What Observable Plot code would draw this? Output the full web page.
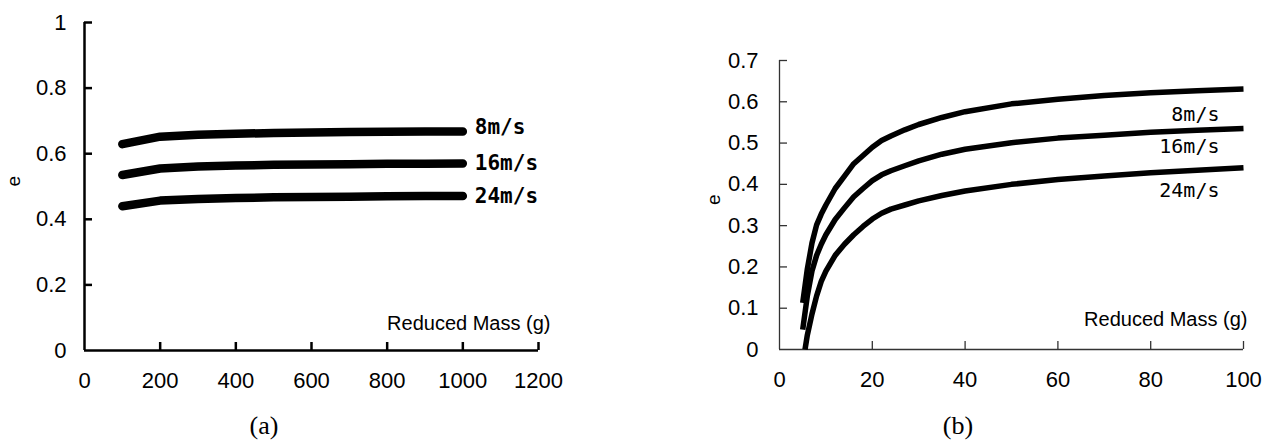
<!DOCTYPE html>
<html><head><meta charset="utf-8">
<script src="https://cdn.jsdelivr.net/npm/d3@7"></script>
<script src="https://cdn.jsdelivr.net/npm/@observablehq/plot@0.6"></script>
<style>
body{margin:0;background:#fff;width:1276px;height:441px;position:relative;overflow:hidden;font-family:"Liberation Sans",Arial,sans-serif;}
#a{position:absolute;left:0;top:0;}
#b{position:absolute;left:640px;top:0;}
.cap{position:absolute;font-family:"Liberation Serif","Times New Roman",serif;font-size:26px;transform:translate(-50%,-50%);color:#000;}
</style></head><body>
<div id="a"></div><div id="b"></div>
<div class="cap" style="left:264px;top:426px">(a)</div>
<div class="cap" style="left:958px;top:426px">(b)</div>
<script>
// ---- data ----
const speedLabels = ["8m/s", "16m/s", "24m/s"];
const xTitle = "Reduced Mass (g)";
const yTitle = "e";

// panel (a)
const massA = [100, 200, 300, 400, 500, 600, 700, 800, 900, 1000];
const e8A  = [0.629, 0.652, 0.658, 0.661, 0.663, 0.665, 0.666, 0.667, 0.668, 0.668];
const e16A = [0.535, 0.555, 0.561, 0.564, 0.566, 0.567, 0.568, 0.569, 0.569, 0.570];
const e24A = [0.440, 0.457, 0.462, 0.465, 0.467, 0.468, 0.469, 0.470, 0.471, 0.471];
const xTicksA = [0, 200, 400, 600, 800, 1000, 1200];
const yTicksA = [0, 0.2, 0.4, 0.6, 0.8, 1];

// panel (b)
const massB   = [5, 6, 7, 8, 9, 10, 12, 14, 16, 18, 20, 22, 24, 27, 30, 35, 40, 50, 60, 70, 80, 90, 100];
const e8B     = [0.113, 0.195, 0.258, 0.302, 0.328, 0.350, 0.390, 0.420, 0.450, 0.470, 0.490, 0.506, 0.517, 0.532, 0.545, 0.562, 0.576, 0.595, 0.606, 0.615, 0.622, 0.627, 0.631];
const e16B    = [0.048, 0.130, 0.190, 0.228, 0.255, 0.278, 0.315, 0.343, 0.370, 0.390, 0.409, 0.423, 0.433, 0.445, 0.457, 0.473, 0.485, 0.501, 0.512, 0.519, 0.526, 0.531, 0.535];
const massB24 = [5.5, 6, 7, 8, 9, 10, 12, 14, 16, 18, 20, 22, 24, 27, 30, 35, 40, 50, 60, 70, 80, 90, 100];
const e24B    = [0.000, 0.035, 0.086, 0.130, 0.165, 0.190, 0.228, 0.255, 0.278, 0.298, 0.316, 0.330, 0.340, 0.350, 0.360, 0.373, 0.384, 0.400, 0.412, 0.420, 0.428, 0.434, 0.440];
const xTicksB = [0, 20, 40, 60, 80, 100];
const yTicksB = [0, 0.1, 0.2, 0.3, 0.4, 0.5, 0.6, 0.7];

// ---- build tables ----
const seriesA = [e8A, e16A, e24A];
const rowsA = speedLabels.flatMap((s, k) => massA.map((m, i) => ({speed: s, mass: m, e: seriesA[k][i]})));
const endA = speedLabels.map((s, k) => ({speed: s, mass: massA[massA.length - 1], e: seriesA[k][seriesA[k].length - 1]}));

const seriesB = [[massB, e8B], [massB, e16B], [massB24, e24B]];
const rowsB = speedLabels.flatMap((s, k) => seriesB[k][0].map((m, i) => ({speed: s, mass: m, e: seriesB[k][1][i]})));
const endB = speedLabels.map((s, k) => ({speed: s, mass: seriesB[k][0][seriesB[k][0].length - 1], e: seriesB[k][1][seriesB[k][1].length - 1]}));

const tickFont = '"Liberation Sans Narrow","Arial Narrow","Liberation Sans",Arial,sans-serif';
const monoFont = '"DejaVu Sans Mono","Liberation Mono",monospace';
const sansFont = '"Liberation Sans",Arial,sans-serif';
const fmt = d => String(d);

const labelDyA = [-4, 0, 0];
const labelDyB = [26, 18, 23];

const plotA = Plot.plot({
  width: 640, height: 400,
  marginLeft: 84, marginRight: 102, marginTop: 22, marginBottom: 50,
  style: {fontFamily: tickFont, fontSize: "22px", color: "#000", background: "#fff", overflow: "visible"},
  x: {domain: [0, 1200]},
  y: {domain: [0, 1]},
  marks: [
    Plot.axisX(xTicksA, {tickSize: 0, tickPadding: 22, tickFormat: fmt, label: null}),
    Plot.axisX(xTicksA.slice(1), {tickSize: -8, strokeWidth: 2.5, fill: "none", label: null}),
    Plot.axisY(yTicksA, {tickSize: 0, tickPadding: 18, tickFormat: fmt, label: null}),
    Plot.axisY(yTicksA.slice(1), {tickSize: -8, strokeWidth: 2.5, fill: "none", label: null}),
    Plot.ruleX([0], {strokeWidth: 2.5}),
    Plot.ruleY([0], {strokeWidth: 2.5}),
    Plot.line(rowsA, {x: "mass", y: "e", z: "speed", stroke: "#000", strokeWidth: 8.5, strokeLinecap: "round", strokeLinejoin: "round"}),
    ...endA.map((d, k) => Plot.text([d], {x: "mass", y: "e", text: "speed", dx: 12, dy: labelDyA[k], textAnchor: "start", fontWeight: "bold", fontFamily: monoFont, fontSize: 21})),
    Plot.text([xTitle], {frameAnchor: "bottom-right", text: d => d, dx: 12, dy: -27, textAnchor: "end", lineAnchor: "middle", fontFamily: sansFont, fontSize: 20}),
    Plot.text([yTitle], {frameAnchor: "left", text: d => d, dx: -71, rotate: -90, lineAnchor: "middle", fontFamily: sansFont, fontSize: 19})
  ]
});
document.getElementById("a").append(plotA);

const plotB = Plot.plot({
  width: 636, height: 400,
  marginLeft: 139, marginRight: 33, marginTop: 60, marginBottom: 51,
  style: {fontFamily: tickFont, fontSize: "22px", color: "#000", background: "#fff", overflow: "visible"},
  x: {domain: [0, 100]},
  y: {domain: [0, 0.7]},
  marks: [
    Plot.axisX(xTicksB, {tickSize: 0, tickPadding: 22, tickFormat: fmt, label: null}),
    Plot.axisX(xTicksB.slice(1), {tickSize: -8, strokeWidth: 1.3, stroke: "#333", fill: "none", label: null}),
    Plot.axisY(yTicksB, {tickSize: 0, tickPadding: 21, tickFormat: fmt, label: null}),
    Plot.axisY(yTicksB.slice(1), {tickSize: -8, strokeWidth: 1.3, stroke: "#333", fill: "none", label: null}),
    Plot.ruleX([0], {strokeWidth: 1.3, stroke: "#333"}),
    Plot.ruleY([0], {strokeWidth: 1.3, stroke: "#333"}),
    Plot.line(rowsB, {x: "mass", y: "e", z: "speed", stroke: "#000", strokeWidth: 5.5, strokeLinecap: "butt", strokeLinejoin: "round"}),
    ...endB.map((d, k) => Plot.text([d], {x: "mass", y: "e", text: "speed", dx: -24, dy: labelDyB[k], textAnchor: "end", fontFamily: monoFont, fontSize: 20})),
    Plot.text([xTitle], {frameAnchor: "bottom-right", text: d => d, dx: 4, dy: -30, textAnchor: "end", lineAnchor: "middle", fontFamily: sansFont, fontSize: 20}),
    Plot.text([yTitle], {frameAnchor: "left", text: d => d, dx: -66, rotate: -90, lineAnchor: "middle", fontFamily: sansFont, fontSize: 19})
  ]
});
document.getElementById("b").append(plotB);
</script>
</body></html>
